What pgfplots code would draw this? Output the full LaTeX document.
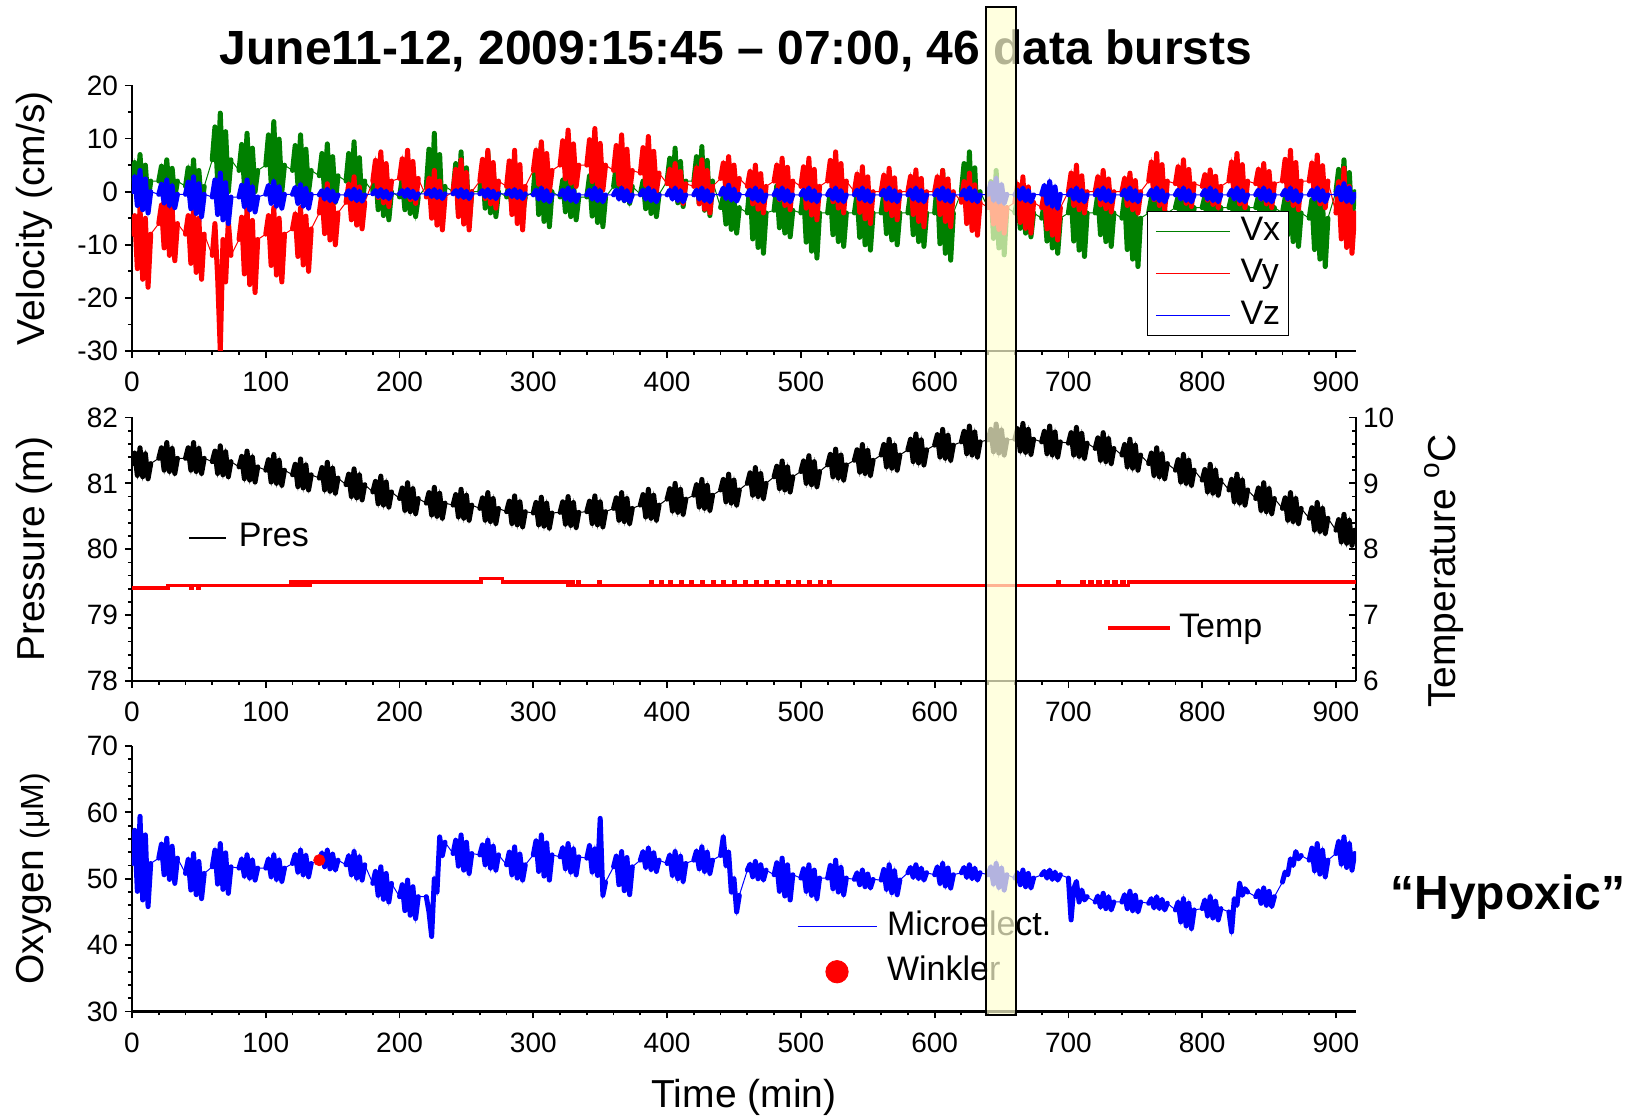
\documentclass[border=0pt]{standalone}
\usepackage{pgfplots}
\pgfplotsset{compat=1.18}
\usepackage{pgfplotstable}
\usepackage{fontspec}
\setmainfont{Liberation Sans}
\definecolor{vxg}{RGB}{0,128,0}
\definecolor{hl}{RGB}{255,255,210}

\pgfplotstableread{
t vx vy vz p o
0 2 -8 0 81.30 52.3
2 5.5 -4.5 2.8 81.46 57.3
4 -0.6 -14.5 -2.6 81.12 48.1
6 7 -3 4 81.54 59.4
8 -1.4 -16.5 -3.4 81.10 46.8
10 5 -5 2.4 81.45 56.6
12 -2 -18 -4 81.07 45.8
14 2 -8 0 81.30 52.3
17 nan nan nan nan nan
20 2 -6 -0.5 81.38 53.1
22 4.8 -2.5 1.4 81.54 55.2
24 0 -10.6 -2.1 81.20 50.6
26 6 -1 2.2 81.62 56.1
28 -0.6 -12 -2.6 81.18 49.9
30 4.4 -3 1.1 81.53 54.9
32 -1 -13 -3 81.15 49.3
34 2 -6 -0.5 81.38 53.1
37 nan nan nan nan nan
40 1 -8 -0.5 81.38 50.8
42 4.5 -4.5 1.8 81.54 52.9
44 -1.6 -13.5 -3.2 81.20 48.3
46 6 -3 2.8 81.62 53.8
48 -2.4 -15.2 -4.1 81.18 47.6
50 4 -5 1.5 81.53 52.6
52 -3 -16.5 -4.7 81.15 47.0
54 1 -8 -0.5 81.38 50.8
57 nan nan nan nan nan
60 6 -12 -1 81.33 51.8
62 12.2 -6 2.2 81.49 54.3
64 2.1 -16 -4.3 81.15 49.2
66 14.8 -30 3.5 81.57 55.3
68 0.9 -9 -5.3 81.13 48.4
70 11.3 -17 1.7 81.48 53.9
72 0 -5.5 -6 81.10 47.8
74 6 -12 -1 81.33 51.8
77 nan nan nan nan nan
80 4 -9 -1 81.25 51.6
82 8.9 -4.8 1.2 81.41 53.0
84 1.4 -15.5 -2.8 81.07 50.4
86 11 -3 2.2 81.49 53.6
88 0.6 -17.5 -3.4 81.05 50.1
90 8.2 -5.4 0.9 81.40 52.8
92 0 -19 -3.8 81.02 49.8
94 4 -9 -1 81.25 51.6
97 nan nan nan nan nan
100 5 -8 -0.5 81.20 51.6
102 10.7 -4.5 1.2 81.36 53.0
104 1.8 -13.9 -2.2 81.02 50.3
106 13.2 -3 1.9 81.44 53.6
108 0.8 -15.7 -2.7 81.00 49.9
110 9.9 -5 0.9 81.35 52.8
112 0 -17 -3.1 80.97 49.6
114 5 -8 -0.5 81.20 51.6
117 nan nan nan nan nan
120 4 -7 -0.5 81.13 52.3
122 8.7 -4.2 0.8 81.29 53.7
124 1.4 -12.2 -2.2 80.95 51.0
126 10.7 -3 1.3 81.37 54.3
128 0.6 -13.8 -2.7 80.93 50.6
130 8 -4.6 0.6 81.28 53.5
132 0 -15 -3.1 80.90 50.3
134 4 -7 -0.5 81.13 52.3
137 nan nan nan nan nan
140 3 -4 -0.6 81.08 52.8
142 7.2 -0.2 0.2 81.24 53.9
144 -0.3 -7.9 -1.4 80.90 51.8
146 9 1.5 0.5 81.32 54.3
148 -1.3 -9.1 -1.7 80.88 51.5
150 6.6 -0.7 0.1 81.23 53.7
152 -2 -10 -1.9 80.85 51.3
154 3 -4 -0.6 81.08 52.8
157 nan nan nan nan nan
160 2 -2 -0.6 80.98 52.1
162 7.2 1.4 0.2 81.14 53.5
164 -1.3 -5.3 -1.4 80.80 50.6
166 9.4 2.8 0.5 81.22 54.1
168 -2.3 -6.3 -1.7 80.78 50.1
170 6.4 0.9 0.1 81.13 53.3
172 -3 -7 -1.8 80.75 49.8
174 2 -2 -0.6 80.98 52.1
177 nan nan nan nan nan
180 0 2 -0.4 80.87 49.3
182 4.2 5.9 0.2 81.03 51.1
184 -3.4 -1.1 -0.9 80.69 47.5
186 6 7.5 0.4 81.11 51.8
188 -4.5 -2.1 -1.1 80.67 46.9
190 3.6 5.3 0.1 81.02 50.8
192 -5.3 -2.8 -1.3 80.64 46.5
194 0 2 -0.4 80.87 49.3
197 nan nan nan nan nan
200 -1 2.5 -0.4 80.77 47.3
202 2.5 6.2 0.2 80.93 49.1
204 -3.4 -0.6 -0.9 80.59 45.2
206 4 7.8 0.4 81.01 49.8
208 -4.1 -1.5 -1.1 80.57 44.5
210 2 5.7 0.1 80.92 48.8
212 -4.7 -2.2 -1.3 80.54 44.0
214 -1 2.5 -0.4 80.77 47.3
217 nan nan nan nan nan
220 1 -1 -0.4 80.70 47.3
222 8 2.5 0.2 80.86 45.0
224 -3.1 -5 -0.9 80.52 41.3
226 11 4 0.4 80.94 50.0
228 -4.4 -6.3 -1.1 80.50 48.0
230 7 2 0.1 80.85 56.3
232 -5.3 -7.2 -1.3 80.47 53.5
234 1 -1 -0.4 80.70 55.5
237 nan nan nan nan nan
240 0 0 -0.4 80.67 53.8
242 5.3 4.2 0.2 80.83 55.8
244 -3.9 -4.7 -0.9 80.49 51.9
246 7.5 6 0.4 80.91 56.6
248 -5.1 -6.1 -1.1 80.47 51.3
250 4.5 3.6 0.1 80.82 55.5
252 -6 -7.2 -1.3 80.44 50.8
254 0 0 -0.4 80.67 53.8
257 nan nan nan nan nan
260 0 2 -0.4 80.62 53.6
262 5.3 6.1 0.2 80.78 55.1
264 -3.1 -1.3 -0.9 80.44 52.1
266 7.5 7.8 0.4 80.86 55.8
268 -4 -2.3 -1.1 80.42 51.6
270 4.5 5.5 0.1 80.77 54.9
272 -4.7 -3.1 -1.3 80.39 51.3
274 0 2 -0.4 80.62 53.6
277 nan nan nan nan nan
280 -1 1 -0.4 80.57 52.1
282 1.7 5.8 0.2 80.73 54.0
284 -3 -4.3 -0.9 80.39 50.6
286 2.8 7.8 0.4 80.81 54.8
288 -3.6 -6 -1.1 80.37 50.1
290 1.3 5.1 0.1 80.72 53.7
292 -4 -7.2 -1.3 80.34 49.8
294 -1 1 -0.4 80.57 52.1
297 nan nan nan nan nan
300 0 4 -0.6 80.55 53.6
302 6.3 7.8 0.3 80.71 55.7
304 -4.3 1.4 -1.4 80.37 51.1
306 9 9.4 0.7 80.79 56.6
308 -5.6 0.6 -1.7 80.35 50.4
310 5.4 7.2 0.2 80.70 55.4
312 -6.6 0 -1.9 80.32 49.8
314 0 4 -0.6 80.55 53.6
317 nan nan nan nan nan
320 -1 5 -0.6 80.56 53.3
322 2.2 9.6 0.3 80.72 54.7
324 -3.8 2.4 -1.4 80.38 51.5
326 3.5 11.6 0.7 80.80 55.3
328 -4.7 1.6 -1.7 80.36 51.0
330 1.7 9 0.2 80.71 54.5
332 -5.3 1 -1.9 80.33 50.6
334 -1 5 -0.6 80.56 53.3
337 nan nan nan nan nan
340 -1 5 -0.6 80.57 53.1
342 3 9.8 0.3 80.73 55.0
344 -4.6 1.9 -1.4 80.39 51.0
346 4.7 11.9 0.7 80.81 54.5
348 -5.8 1 -1.7 80.37 50.5
350 2.4 9.1 0.2 80.72 59.1
352 -6.6 0.3 -1.9 80.34 47.5
354 -1 5 -0.6 80.57 49.5
357 nan nan nan nan nan
360 1 4 -0.6 80.62 51.8
362 4.9 8.7 0.3 80.78 53.4
364 -1.1 1.4 -1.4 80.44 49.1
366 6.6 10.7 0.7 80.86 54.1
368 -1.7 0.6 -1.7 80.42 48.2
370 4.4 8 0.2 80.77 53.2
372 -2.2 0 -1.9 80.39 47.6
374 1 4 -0.6 80.62 51.8
377 nan nan nan nan nan
380 -0.5 3.5 -0.6 80.67 52.8
382 2 8.3 0.3 80.83 54.1
384 -3.2 1.2 -1.4 80.49 51.7
386 3 10.4 0.7 80.91 54.6
388 -4.1 0.5 -1.7 80.47 51.4
390 1.6 7.6 0.2 80.82 53.9
392 -4.7 0 -1.9 80.44 51.1
394 -0.5 3.5 -0.6 80.67 52.8
397 nan nan nan nan nan
400 2 1.5 -0.6 80.76 52.3
402 6.3 4.2 0.3 80.92 53.6
404 -1.1 -0.9 -1.4 80.58 50.5
406 8.2 5.3 0.7 81.00 54.1
408 -2.1 -1.6 -1.7 80.56 50.0
410 5.7 3.8 0.2 80.91 53.4
412 -2.8 -2.2 -1.9 80.53 49.6
414 2 1.5 -0.6 80.76 52.3
417 nan nan nan nan nan
420 2 1 -0.6 80.82 52.8
422 6.6 4.5 0.3 80.98 54.2
424 -2.2 -2.3 -1.4 80.64 51.5
426 8.5 6 0.7 81.06 54.8
428 -3.5 -3.3 -1.7 80.62 51.1
430 5.9 4 0.2 80.97 54.0
432 -4.5 -4 -1.9 80.59 50.8
434 2 1 -0.6 80.82 52.8
437 nan nan nan nan nan
440 -3 2.5 -0.5 80.90 53.5
442 -0.9 5.4 0.7 81.06 56.3
444 -6.1 0.3 -1.3 80.72 52.0
446 0 6.6 1.2 81.14 54.0
448 -7.1 -0.4 -1.6 80.70 48.0
450 -1.2 5 0.5 81.05 50.0
452 -7.8 -0.9 -1.8 80.67 45.0
454 -3 2.5 -0.5 80.90 47.5
457 nan nan nan nan nan
460 -4 1 -0.6 81.00 51.3
462 1.6 3.8 0.3 81.16 52.2
464 -8.9 -2.3 -1.4 80.82 50.3
466 4 5 0.7 81.24 52.6
468 -10.5 -3.3 -1.7 80.80 50.0
470 0.8 3.4 0.2 81.15 52.1
472 -11.6 -4 -1.9 80.77 49.8
474 -4 1 -0.6 81.00 51.3
477 nan nan nan nan nan
480 -3.5 2 -0.6 81.10 50.6
482 1.1 5 0.3 81.26 52.4
484 -6.8 -1.5 -1.4 80.92 48.1
486 3 6.3 0.7 81.34 53.1
488 -7.8 -2.6 -1.7 80.90 47.4
490 0.4 4.6 0.2 81.25 52.1
492 -8.5 -3.4 -1.9 80.87 46.8
494 -3.5 2 -0.6 81.10 50.6
497 nan nan nan nan nan
500 -4 1 -0.6 81.18 50.1
502 0.2 4.7 0.3 81.34 51.5
504 -9.5 -3.1 -1.4 81.00 48.1
506 2 6.3 0.7 81.42 52.1
508 -11.2 -4.4 -1.7 80.98 47.5
510 -0.4 4.2 0.2 81.33 51.3
512 -12.5 -5.3 -1.9 80.95 47.0
514 -4 1 -0.6 81.18 50.1
517 nan nan nan nan nan
520 -4 2 -0.6 81.28 50.1
522 0.2 5.9 0.3 81.44 52.0
524 -8.1 -1.9 -1.4 81.10 48.5
526 2 7.5 0.7 81.52 52.8
528 -9.4 -3.1 -1.7 81.08 48.0
530 -0.4 5.3 0.2 81.43 51.7
532 -10.3 -4 -1.9 81.05 47.6
534 -4 2 -0.6 81.28 50.1
537 nan nan nan nan nan
540 -4 0 -0.6 81.35 49.9
542 -0.5 3.3 0.3 81.51 50.9
544 -8.6 -3.9 -1.4 81.17 49.1
546 1 4.7 0.7 81.59 51.3
548 -10 -5.1 -1.7 81.15 48.8
550 -1 2.8 0.2 81.50 50.7
552 -11 -6 -1.9 81.12 48.6
554 -4 0 -0.6 81.35 49.9
557 nan nan nan nan nan
560 -4 0 -0.6 81.43 49.8
562 -0.5 3.1 0.3 81.59 51.4
564 -7.9 -3.4 -1.4 81.25 48.4
566 1 4.4 0.7 81.67 52.1
568 -9.1 -4.5 -1.7 81.23 47.9
570 -1 2.6 0.2 81.58 51.2
572 -10 -5.3 -1.9 81.20 47.6
574 -4 0 -0.6 81.43 49.8
577 nan nan nan nan nan
580 -4 0 -0.6 81.51 50.9
582 -0.2 2.9 0.3 81.67 51.7
584 -8.1 -4.3 -1.4 81.33 50.2
586 1.5 4.1 0.7 81.75 52.1
588 -9.4 -5.6 -1.7 81.31 50.0
590 -0.7 2.5 0.2 81.66 51.6
592 -10.3 -6.6 -1.9 81.28 49.8
594 -4 0 -0.6 81.51 50.9
597 nan nan nan nan nan
600 -4 0 -0.6 81.58 50.6
602 1.6 2.8 0.3 81.74 51.8
604 -9.8 -4.3 -1.4 81.40 49.3
606 4 4 0.7 81.82 52.3
608 -11.6 -5.6 -1.7 81.38 48.9
610 0.8 2.4 0.2 81.73 51.6
612 -12.9 -6.6 -1.9 81.35 48.6
614 -4 0 -0.6 81.58 50.6
617 nan nan nan nan nan
620 0 -2 -0.6 81.63 50.9
622 5.3 1.9 0.3 81.79 51.7
624 -4.7 -6 -1.4 81.45 50.2
626 7.5 3.5 0.7 81.87 52.1
628 -6.1 -7.3 -1.7 81.43 50.0
630 4.5 1.3 0.2 81.78 51.6
632 -7.2 -8.2 -1.9 81.40 49.8
634 0 -2 -0.6 81.63 50.9
637 nan nan nan nan nan
640 -3 -3 -0.5 81.66 50.6
642 1.9 -0.2 1.6 81.82 51.8
644 -8.8 -6.1 -1.6 81.48 49.2
646 4 1 2.5 81.90 52.3
648 -10.6 -7.1 -1.9 81.46 48.7
650 1.2 -0.6 1.3 81.81 51.6
652 -11.9 -7.8 -2.2 81.43 48.3
654 -3 -3 -0.5 81.66 50.6
657 nan nan nan nan nan
660 -4 -2 -0.6 81.67 50.1
662 -1.2 1.4 0.3 81.83 50.9
664 -6.9 -5.8 -1.4 81.49 49.1
666 0 2.8 0.7 81.91 51.3
668 -7.8 -6.9 -1.7 81.47 48.8
670 -1.6 0.9 0.2 81.82 50.8
672 -8.5 -7.8 -1.9 81.44 48.6
674 -4 -2 -0.6 81.67 50.1
677 nan nan nan nan nan
680 -5 -3 -0.5 81.63 50.6
682 -2.2 -0.2 1.2 81.79 51.1
684 -9.3 -7 -2.2 81.45 50.1
686 -1 1 1.9 81.87 51.3
688 -10.6 -8.2 -2.7 81.43 49.9
690 -2.6 -0.6 0.9 81.78 51.0
692 -11.6 -9.1 -3.1 81.40 49.8
694 -5 -3 -0.5 81.63 50.6
697 nan nan nan nan nan
700 -4 0 -0.6 81.61 50.1
702 -0.5 3.5 0.3 81.77 43.8
704 -9.3 -2.6 -1.4 81.43 48.5
706 1 5 0.7 81.85 49.6
708 -11 -3.4 -1.7 81.41 46.5
710 -1 3 0.2 81.76 48.3
712 -12.2 -4 -1.9 81.38 46.8
714 -4 0 -0.6 81.61 47.3
717 nan nan nan nan nan
720 -4 0 -0.6 81.53 46.5
722 -0.5 2.8 0.3 81.69 47.4
724 -8.1 -2.5 -1.4 81.35 45.7
726 1 4 0.7 81.77 47.8
728 -9.4 -3.2 -1.7 81.33 45.5
730 -1 2.4 0.2 81.68 47.3
732 -10.3 -3.8 -1.9 81.30 45.3
734 -4 0 -0.6 81.53 46.5
737 nan nan nan nan nan
740 -5 0 -0.6 81.43 46.5
742 -0.8 2.5 0.3 81.59 47.6
744 -10.9 -2.6 -1.4 81.25 45.5
746 1 3.5 0.7 81.67 48.1
748 -12.7 -3.4 -1.7 81.23 45.2
750 -1.4 2.1 0.2 81.58 47.5
752 -14.1 -4 -1.9 81.20 45.0
754 -5 0 -0.6 81.43 46.5
757 nan nan nan nan nan
760 -4 2 -0.6 81.30 46.3
762 -1.2 5.6 0.3 81.46 47.0
764 -7.9 -1.5 -1.4 81.12 45.6
766 0 7.2 0.7 81.54 47.3
768 -9.1 -2.6 -1.7 81.10 45.5
770 -1.6 5.1 0.2 81.45 46.9
772 -10 -3.4 -1.9 81.07 45.3
774 -4 2 -0.6 81.30 46.3
777 nan nan nan nan nan
780 -3 1.5 -0.6 81.20 45.3
782 -0.9 4.7 0.3 81.36 46.5
784 -6.9 -1.3 -1.4 81.02 43.5
786 0 6 0.7 81.44 47.0
788 -8.1 -2.2 -1.7 81.00 42.9
790 -1.2 4.2 0.2 81.35 46.3
792 -9 -2.8 -1.9 80.97 42.5
794 -3 1.5 -0.6 81.20 45.3
797 nan nan nan nan nan
800 -3 1 -0.6 81.05 45.5
802 -0.9 3.2 0.3 81.21 46.8
804 -6.9 -1.6 -1.4 80.87 44.4
806 0 4.1 0.7 81.29 47.3
808 -8.1 -2.4 -1.7 80.85 44.1
810 -1.2 2.9 0.2 81.20 46.6
812 -9 -3 -1.9 80.82 43.8
814 -3 1 -0.6 81.05 45.5
817 nan nan nan nan nan
820 -3 2 -0.6 80.90 45.0
822 -0.9 5.6 0.3 81.06 42.0
824 -6.9 -1.3 -1.4 80.72 47.0
826 0 7.2 0.7 81.14 46.0
828 -8.1 -2.3 -1.7 80.70 49.3
830 -1.2 5.1 0.2 81.05 47.5
832 -9 -3 -1.9 80.67 48.5
834 -3 2 -0.6 80.90 48.0
837 nan nan nan nan nan
840 -3 1.5 -0.6 80.77 47.3
842 -0.9 4.2 0.3 80.93 48.2
844 -6.9 -1.4 -1.4 80.59 46.3
846 0 5.3 0.7 81.01 48.6
848 -8.1 -2.3 -1.7 80.57 46.0
850 -1.2 3.8 0.2 80.92 48.1
852 -9 -3 -1.9 80.54 45.8
854 -3 1.5 -0.6 80.77 47.3
857 nan nan nan nan nan
860 -4 2 -0.6 80.62 49.5
862 -1.2 6.1 0.3 80.78 51.0
864 -8.1 -1.5 -1.4 80.44 50.6
866 0 7.8 0.7 80.86 53.0
868 -9.4 -2.6 -1.7 80.42 52.0
870 -1.6 5.5 0.2 80.77 54.1
872 -10.3 -3.4 -1.9 80.39 53.0
874 -4 2 -0.6 80.62 53.5
877 nan nan nan nan nan
880 -5 2 -0.6 80.47 52.8
882 -1.5 5.4 0.3 80.63 54.6
884 -10.9 -1.3 -1.4 80.29 51.2
886 0 6.9 0.7 80.71 55.3
888 -12.7 -2.3 -1.7 80.27 50.7
890 -2 4.9 0.2 80.62 54.3
892 -14.1 -3 -1.9 80.24 50.3
894 -5 2 -0.6 80.47 52.8
897 nan nan nan nan nan
900 0 -4 -0.5 80.29 53.8
902 4.2 1.9 0.9 80.45 55.6
904 -3.9 -8.9 -1.5 80.11 52.2
906 6 4.4 1.5 80.53 56.3
908 -5.1 -10.5 -1.8 80.09 51.7
910 3.6 1 0.7 80.44 55.3
912 -6 -11.6 -2 80.06 51.3
914 0 -4 -0.5 80.29 53.8
}\data

\pgfplotsset{
  base/.style={
    scale only axis, width=612pt, height=132.75pt,
    xmin=0, xmax=915,
    axis x line*=bottom, axis y line*=left,
    xtick={0,100,...,900}, minor x tick num=4,
    tick align=outside,
    major tick length=3.5pt, minor tick length=2pt,
    axis line style={line width=1.1pt, black},
    every tick/.style={black, line width=0.9pt},
    tick label style={font=\fontsize{14}{14}\selectfont},
    xticklabel style={yshift=-3.5pt},
    /pgf/number format/assume math mode=true,
    every axis y label/.style={at={(axis description cs:-0.080,0.5)}, rotate=90, anchor=center, font=\fontsize{19.5}{19.5}\selectfont},
    legend cell align=left,
  },
  thin/.style={line width=0.5pt},
  burst/.style={line width=2.5pt, line join=round, line cap=round, unbounded coords=jump, forget plot},
}

\begin{document}
\begin{tikzpicture}
\useasboundingbox (0,0) rectangle (819.5pt,558.5pt);

% ---------------- top: velocity
\begin{axis}[base, at={(66pt,383pt)}, anchor=south west,
  ymin=-30, ymax=20, ytick={-30,-20,...,20}, minor y tick num=1,
  ylabel={Velocity (cm/s)},
  legend image code/.code={\draw[#1] (0pt,0pt) -- (37pt,0pt);},
  legend image post style={line width=0.6pt},
  legend style={at={(0.829,0.527)}, anchor=north west, draw=black, fill=white,
    line width=0.6pt, font=\fontsize{17}{17}\selectfont,
    inner xsep=4pt, inner ysep=2pt, row sep=5pt, column sep=5pt,
    nodes={inner sep=0pt, text height=12.5pt, text depth=3.5pt}},
]
\addplot[vxg, thin] table[x=t,y=vx]{\data}; \addlegendentry{Vx}
\addplot[vxg, burst] table[x=t,y=vx]{\data};
\addplot[red, thin] table[x=t,y=vy]{\data}; \addlegendentry{Vy}
\addplot[red, burst] table[x=t,y=vy]{\data};
\addplot[blue, thin] table[x=t,y=vz]{\data}; \addlegendentry{Vz}
\addplot[blue, burst] table[x=t,y=vz]{\data};
\end{axis}

% ---------------- middle: pressure
\begin{axis}[base, at={(66pt,218pt)}, anchor=south west, height=131.75pt,
  ymin=78, ymax=82, ytick={78,79,...,82}, minor y tick num=4,
  ylabel={Pressure (m)},
  legend image code/.code={\draw[#1] (0pt,0pt) -- (18.5pt,0pt);},
  legend image post style={line width=0.7pt},
  legend style={at={(0.0458,0.543)}, anchor=west, draw=none, fill=none,
    font=\fontsize{17}{17}\selectfont, inner sep=0pt, column sep=6pt,
    nodes={inner sep=0pt, text height=12.5pt, text depth=3.5pt}},
]
\addplot[black, thin] table[x=t,y=p]{\data}; \addlegendentry{Pres}
\addplot[black, burst] table[x=t,y=p]{\data};
\end{axis}

% ---------------- middle: temperature (right axis)
\begin{axis}[base, at={(66pt,218pt)}, anchor=south west, height=131.75pt,
  axis y line*=right, axis x line=none,
  ymin=6, ymax=10, ytick={6,7,...,10}, minor y tick num=4,
  tick align=inside,
  ylabel={Temperature \raisebox{0.75ex}{\fontsize{14}{14}\selectfont o}C},
  every axis y label/.style={at={(axis description cs:1.072,0.417)}, rotate=90, anchor=center, font=\fontsize{19.5}{19.5}\selectfont},
  legend image code/.code={\draw[#1] (0pt,0pt) -- (31pt,0pt);},
  legend style={at={(0.7958,0.201)}, anchor=west, draw=none, fill=none,
    font=\fontsize{17}{17}\selectfont, inner sep=0pt, column sep=3.5pt,
    nodes={inner sep=0pt, text height=12.5pt, text depth=3.5pt}},
]
\addplot[red, line width=1.8pt] coordinates {
(0,7.41) (27,7.41) (27,7.45) (44,7.45) (44,7.41) (45,7.41) (45,7.45) (49,7.45) (49,7.41) (50,7.41) (50,7.45)
(119,7.45) (119,7.50) (121,7.50) (121,7.45) (123,7.45) (123,7.50) (125,7.50) (125,7.45) (128,7.45) (128,7.50)
(130,7.50) (130,7.45) (133,7.45) (133,7.50) (261,7.50) (261,7.555) (277,7.555) (277,7.50) (326,7.50) (326,7.45)
(329,7.45) (329,7.50) (330,7.50) (330,7.45) (333,7.45) (333,7.50) (334,7.50) (334,7.45) (349,7.45) (349,7.50)
(350,7.50) (350,7.45) (388,7.45) (388,7.50) (389,7.50) (389,7.45) (395,7.45) (395,7.50) (396,7.50) (396,7.45)
(402,7.45) (402,7.50) (403,7.50) (403,7.45) (410,7.45) (410,7.50) (411,7.50) (411,7.45) (418,7.45) (418,7.50)
(419,7.50) (419,7.45) (426,7.45) (426,7.50) (427,7.50) (427,7.45) (434,7.45) (434,7.50) (435,7.50) (435,7.45)
(442,7.45) (442,7.50) (443,7.50) (443,7.45) (450,7.45) (450,7.50) (451,7.50) (451,7.45) (458,7.45) (458,7.50)
(459,7.50) (459,7.45) (466,7.45) (466,7.50) (467,7.50) (467,7.45) (474,7.45) (474,7.50) (475,7.50) (475,7.45)
(482,7.45) (482,7.50) (483,7.50) (483,7.45) (490,7.45) (490,7.50) (491,7.50) (491,7.45) (498,7.45) (498,7.50)
(499,7.50) (499,7.45) (506,7.45) (506,7.50) (507,7.50) (507,7.45) (514,7.45) (514,7.50) (515,7.50) (515,7.45)
(521,7.45) (521,7.50) (522,7.50) (522,7.45) (692,7.45) (692,7.50) (693,7.50) (693,7.45) (710,7.45) (710,7.50)
(712,7.50) (712,7.45) (716,7.45) (716,7.50) (718,7.50) (718,7.45) (722,7.45) (722,7.50) (724,7.50) (724,7.45)
(728,7.45) (728,7.50) (730,7.50) (730,7.45) (734,7.45) (734,7.50) (736,7.50) (736,7.45) (740,7.45) (740,7.50)
(742,7.50) (742,7.45) (745,7.45) (745,7.50) (915,7.50)
};
\addlegendentry{Temp}
\end{axis}

% ---------------- bottom: oxygen
\begin{axis}[base, at={(66pt,52.75pt)}, anchor=south west,
  ymin=30, ymax=70, ytick={30,40,...,70}, minor y tick num=4,
  ylabel={Oxygen {\fontsize{16}{16}\selectfont (μM)}},
  xlabel={Time (min)},
  every axis x label/.style={at={(axis description cs:0.5,-0.322)}, anchor=center, font=\fontsize{19.5}{19.5}\selectfont},
  legend image code/.code={\draw[mark repeat=2,mark phase=2,#1] plot coordinates {(0pt,0pt) (19.75pt,0pt) (39.5pt,0pt)};},
  legend style={at={(0.543,0.381)}, anchor=north west, draw=none, fill=none,
    font=\fontsize{17}{17}\selectfont, inner sep=0pt, row sep=6.5pt, column sep=5pt,
    nodes={inner sep=0pt, text height=12.5pt, text depth=3.5pt}},
]
\addplot[blue, thin] table[x=t,y=o]{\data};
\addlegendentry{Microelect.}
\addplot[blue, burst] table[x=t,y=o]{\data};
\addplot[red, only marks, mark=*, mark size=2.8pt, forget plot] coordinates {(140,52.8)};
\addlegendimage{red, only marks, mark=*, mark size=5.6pt}
\addlegendentry{Winkler}
\end{axis}

% ---------------- annotations
\node[anchor=base, font=\bfseries\fontsize{24}{24}\selectfont] at (368pt,526pt) {June11-12, 2009:15:45 – 07:00, 46 data bursts};
\node[anchor=base west, inner sep=0pt, font=\bfseries\fontsize{24}{24}\selectfont] at (695pt,103.5pt) {“Hypoxic”};
\draw[black, line width=0.8pt, fill=hl, fill opacity=0.7] (493pt,51pt) rectangle (508pt,555pt);
\end{tikzpicture}
\end{document}
